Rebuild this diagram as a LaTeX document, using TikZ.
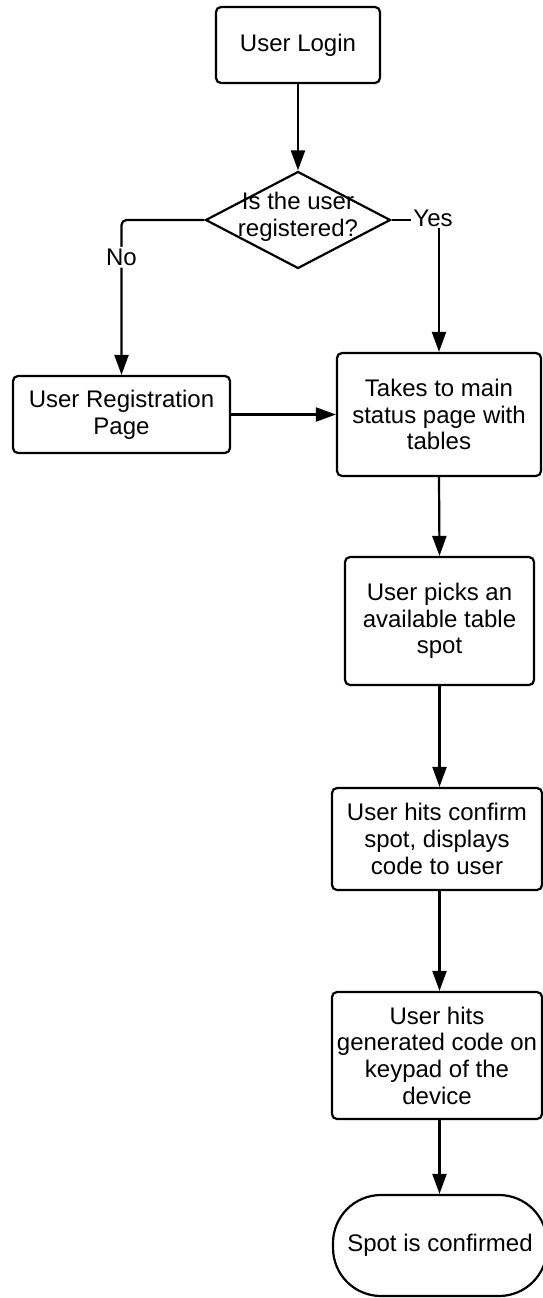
\documentclass[tikz,border=0pt]{standalone}
\usepackage{fontspec}
\setmainfont{Liberation Sans}
\usetikzlibrary{arrows.meta,shapes.geometric}
\begin{document}
\begin{tikzpicture}[x=1pt,y=-1pt,
  font=\fontsize{24}{26.7}\selectfont,
  box/.style={draw, line width=2.2pt, rounded corners=5pt, align=center, inner sep=0pt},
  arr/.style={line width=2.2pt, -{Triangle[length=20pt,width=14pt]}},
  lbl/.style={fill=white, inner sep=2pt}]
\clip (0,0) rectangle (543,1298);
\fill[white] (0,0) rectangle (543,1298);

\node[box, minimum width=164pt, minimum height=76pt] (login) at (298,45) {User Login};
\node[draw, diamond, line width=2.2pt, minimum width=185pt, minimum height=97pt, inner sep=0pt,
      label={[align=center, yshift=3pt]center:Is the user\\registered?}] (dec) at (298,220) {};
\node[box, minimum width=217pt, minimum height=77pt] (reg) at (121.5,414.5) {User Registration\\Page};
\node[box, minimum width=204pt, minimum height=123pt] (main) at (439,414.5) {Takes to main\\status page with\\tables};
\node[box, minimum width=189pt, minimum height=128pt] (pick) at (439.5,621) {User picks an\\available table\\spot};
\node[box, minimum width=210pt, minimum height=102pt] (conf) at (437,839) {User hits confirm\\spot, displays\\code to user};
\node[box, minimum width=210pt, minimum height=127pt] (gen) at (437,1055.5) {User hits\\generated code on\\keypad of the\\device};
\node[box, rounded corners=48pt, minimum width=214pt, minimum height=101pt] (term) at (440,1245.5) {Spot is confirmed};

\draw[arr] (login) -- (dec);
\draw[arr, rounded corners=5pt] (dec.west) -| node[lbl, pos=0.62]{No} (reg.north);
\draw[arr] (dec.east) -| node[lbl, pos=0.5, xshift=-6pt, yshift=2pt]{Yes} (main.north);
\draw[arr] (reg.east) -- (main.west);
\draw[arr] (main.south) -- (pick.north);
\draw[arr] (pick.south) -- (pick.south |- conf.north);
\draw[arr] (conf.south -| pick.south) -- (pick.south |- gen.north);
\draw[arr] (gen.south -| pick.south) -- (pick.south |- term.north);
\end{tikzpicture}
\end{document}
